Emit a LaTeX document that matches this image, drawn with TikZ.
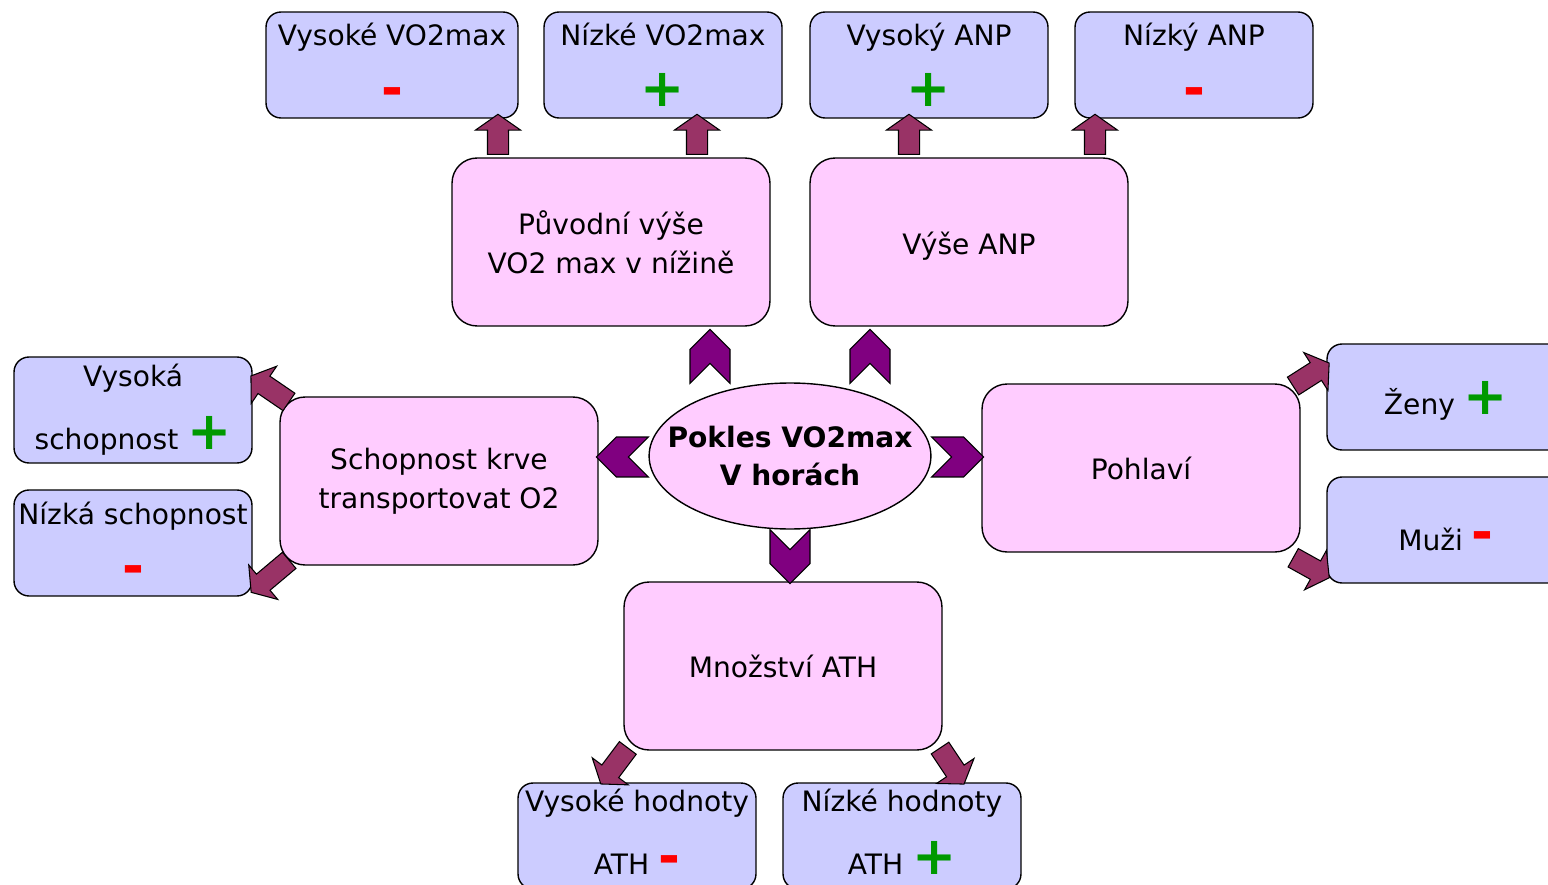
\documentclass[tikz,border=0pt]{standalone}
\usepackage{fontspec}
\setmainfont{DejaVu Sans}
\usetikzlibrary{shapes.geometric,shapes.symbols,shapes.arrows,calc}

\definecolor{pinkfill}{HTML}{FFCCFF}
\definecolor{bluefill}{HTML}{CCCCFF}
\definecolor{chevfill}{HTML}{800080}
\definecolor{arrowfill}{HTML}{993366}
\definecolor{plusgreen}{HTML}{009900}
\definecolor{minusred}{HTML}{FF0000}

\newcommand\plussign{\smash{\textcolor{plusgreen}{\fontsize{30}{30}\selectfont\bfseries +}}}
\newcommand\minussign{\smash{\textcolor{minusred}{\fontsize{30}{30}\selectfont\bfseries -}}}

% block arrow from #1 to #2
\newcommand\blockarrow[2]{%
  \path let \p1=(#1), \p2=(#2), \n1={atan2(\y2-\y1,\x2-\x1)}, \n2={veclen(\x2-\x1,\y2-\y1)} in
    node[barrow, rotate=\n1, minimum height=\n2] at ($(#1)!0.5!(#2)$) {};}

\begin{document}
\begin{tikzpicture}[x=0.02cm, y=-0.02cm, font=\fontsize{16}{22}\selectfont]
\tikzset{
  pinkbox/.style={draw, fill=pinkfill, rounded corners=0.5cm, minimum width=6.36cm,
    minimum height=3.36cm, align=center, inner sep=0pt, outer sep=0pt, line width=0.8pt},
  bluebox/.style={draw, fill=bluefill, rounded corners=0.3cm, minimum width=4.76cm,
    minimum height=2.12cm, align=center, inner sep=0pt, outer sep=0pt, line width=0.8pt},
  chev/.style={shape=signal, draw, fill=chevfill, inner sep=0pt, line width=0.6pt},
  chevv/.style={chev, minimum width=0.8cm, minimum height=0.28cm},
  chevh/.style={chev, minimum width=1.04cm, minimum height=0.8cm},
  barrow/.style={single arrow, draw, fill=arrowfill, inner sep=0pt, text height=0.2cm,
    text depth=0.2cm, single arrow head extend=0.24cm, single arrow tip angle=110,
    line width=0.6pt}
}
\useasboundingbox (0,0) rectangle (1548,885);
\clip (0,0) rectangle (1548,885);

% centre
\node [ellipse, draw, fill=pinkfill, minimum width=5.6cm, minimum height=2.92cm, inner xsep=-13pt,
  inner ysep=0pt, line width=0.8pt, align=center, font=\fontsize{16}{22}\selectfont\bfseries]
  (pokles) at (790,456) {Pokles VO2max\\V horách};

% factors
\node [pinkbox] (puvodni) at (611,242) {Původní výše\\VO2 max v nížině};
\node [pinkbox, text height=14pt, text depth=0pt] (anp) at (969,242) {Výše ANP};
\node [pinkbox] (krev) at (439,481) {Schopnost krve\\transportovat O2};
\node [pinkbox] (pohlavi) at (1141,468) {Pohlaví};
\node [pinkbox] (ath) at (783,666) {Množství ATH};

% effects
\node [bluebox, minimum width=5.04cm] (vo2hi) at (392,65) {Vysoké VO2max\\[13pt]\minussign};
\node [bluebox] (vo2lo) at (663,65) {Nízké VO2max\\[13pt]\plussign};
\node [bluebox] (anphi) at (929,65) {Vysoký ANP\\[13pt]\plussign};
\node [bluebox] (anplo) at (1194,65) {Nízký ANP\\[13pt]\minussign};
\node [bluebox] (schhi) at (133,410) {Vysoká\\[14pt]schopnost \plussign};
\node [bluebox] (schlo) at (133,543) {Nízká schopnost\\[12pt]\minussign};
\node [bluebox, text height=20pt, text depth=0pt] (zeny) at (1446,397) {Ženy \plussign};
\node [bluebox, text height=23pt, text depth=0pt] (muzi) at (1446,530) {Muži \minussign};
\node [bluebox, text depth=5pt] (athhi) at (637,836) {Vysoké hodnoty\\[14pt]ATH \minussign};
\node [bluebox, text depth=5pt] (athlo) at (902,836) {Nízké hodnoty\\[14pt]ATH \plussign};

% chevrons
\node [chevv, signal to=north, signal from=south] (ch1) at ($(pokles.north)+(-80,-26)$) {};
\node [chevv, signal to=north, signal from=south] (ch2) at ($(pokles.north)+(80,-26)$) {};
\node [chevh, signal to=west, signal from=east] (ch3) at ($(pokles.west)+(-26,1)$) {};
\node [chevh, signal to=east, signal from=west] (ch4) at ($(pokles.east)+(26,1)$) {};
\node [chevv, signal to=south, signal from=north] (ch5) at ($(pokles.south)+(0,27)$) {};

% arrows
\blockarrow{$(puvodni.north west)+(46,0)$}{$(vo2hi.south east)+(-20,0)$}
\blockarrow{$(puvodni.north)+(86,0)$}{$(vo2lo.south)+(34,0)$}
\blockarrow{$(anp.north)+(-60,0)$}{$(anphi.south)+(-20,0)$}
\blockarrow{$(anp.north east)+(-33,0)$}{$(anplo.south west)+(20,0)$}
\blockarrow{$(krev.north west)+(12,7)$}{$(schhi.north east)+(2,21)$}
\blockarrow{$(krev.south west)+(12,-7)$}{$(schlo.south east)+(2,-6)$}
\blockarrow{$(pohlavi.north east)+(-10,4)$}{$(zeny.north west)+(-1,21)$}
\blockarrow{$(pohlavi.south east)+(-10,4)$}{$(muzi.south west)+(-1,-7)$}
\blockarrow{$(ath.south west)+(6,-5)$}{$(athhi.north)+(-34,-2)$}
\blockarrow{$(ath.south east)+(-4,-5)$}{$(athlo.north)+(60,-2)$}
\end{tikzpicture}
\end{document}
